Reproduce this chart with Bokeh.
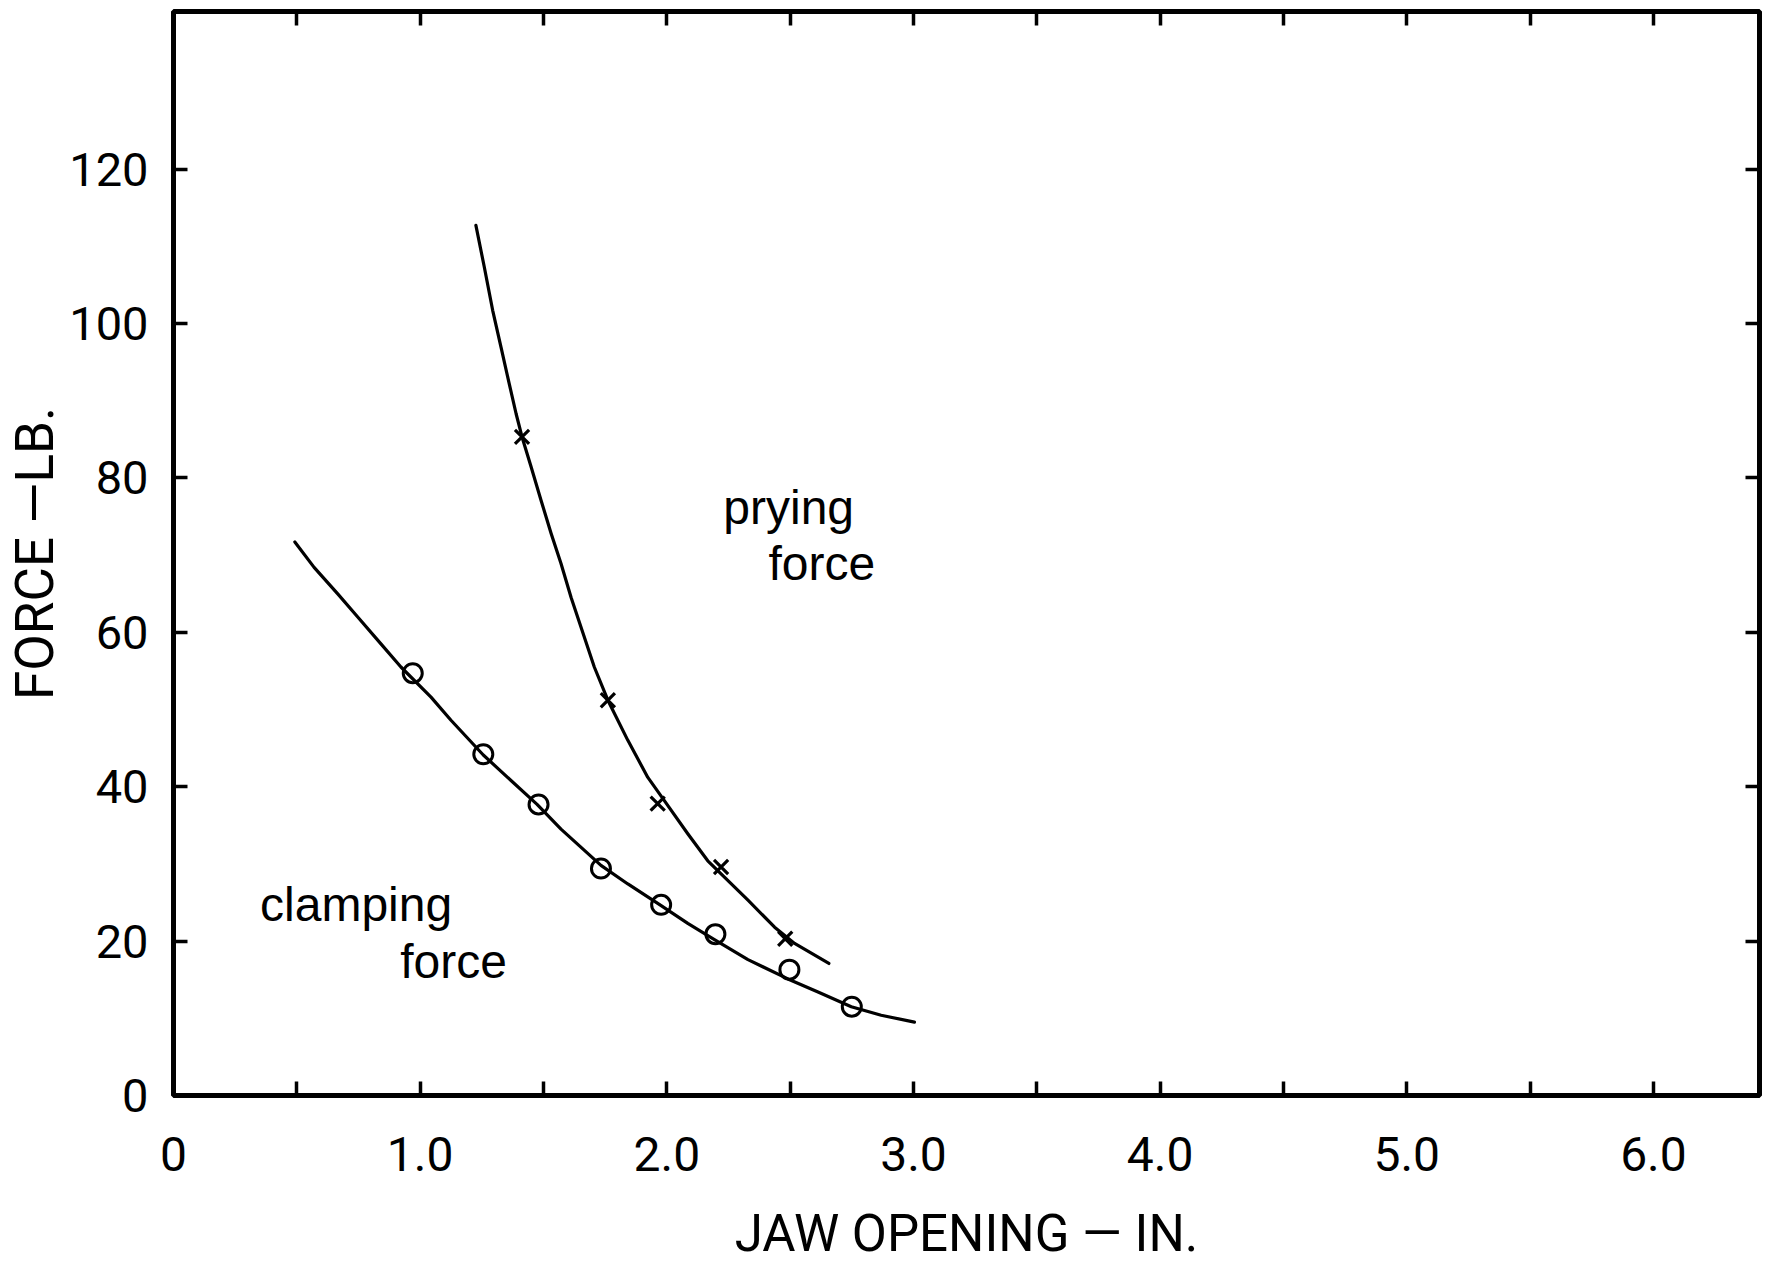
from bokeh.plotting import figure
from bokeh.models import Range1d, FixedTicker, LinearAxis, Label, NumeralTickFormatter
from bokeh.embed import file_html
from bokeh.resources import INLINE

# ---- data ----
x_ticks = [0, 1, 2, 3, 4, 5, 6]
x_minor_ticks = [0.5, 1.5, 2.5, 3.5, 4.5, 5.5]
y_ticks = [0, 20, 40, 60, 80, 100, 120]

# clamping force: measured points (circles)
clamp_x = [0.970, 1.256, 1.480, 1.733, 1.977, 2.197, 2.497, 2.750]
clamp_y = [54.7, 44.2, 37.7, 29.4, 24.7, 20.9, 16.3, 11.5]

# clamping force: hand-drawn fitted curve
clamp_curve_x = [0.492, 0.570, 0.665, 0.746, 0.841, 0.922, 1.044, 1.125, 1.256,
                 1.474, 1.571, 1.733, 1.842, 1.977, 2.085, 2.193, 2.329, 2.491,
                 2.613, 2.748, 2.869, 3.004]
clamp_curve_y = [71.7, 68.4, 65.0, 62.0, 58.5, 55.5, 51.6, 48.6, 44.1,
                 37.7, 34.5, 29.8, 27.4, 24.6, 22.3, 20.2, 17.6, 15.1,
                 13.4, 11.5, 10.4, 9.5]

# prying force: measured points (crosses)
pry_x = [1.413, 1.761, 1.963, 2.220, 2.480]
pry_y = [85.3, 51.2, 37.8, 29.6, 20.3]

# prying force: hand-drawn fitted curve
pry_curve_x = [1.226, 1.260, 1.294, 1.328, 1.361, 1.389, 1.413, 1.450, 1.490,
               1.531, 1.571, 1.612, 1.706, 1.761, 1.842, 1.923, 1.990, 2.085,
               2.166, 2.329, 2.437, 2.518, 2.657]
pry_curve_y = [112.7, 107.3, 101.7, 96.9, 92.2, 88.3, 85.3, 81.4, 77.1,
               72.8, 68.9, 64.5, 55.5, 51.2, 46.0, 41.2, 38.2, 33.9,
               30.4, 25.3, 21.8, 19.7, 17.1]

FONT = "Roboto, sans-serif"
AFONT = "Liberation Sans, Arial, sans-serif"

p = figure(frame_width=1586, frame_height=1084,
           min_border_left=173, min_border_right=11,
           min_border_top=11, min_border_bottom=168,
           x_range=Range1d(0, 6.43), y_range=Range1d(0, 140.4),
           output_backend="svg", toolbar_location=None,
           x_axis_location=None, y_axis_location=None)

p.xgrid.grid_line_color = None
p.ygrid.grid_line_color = None
p.background_fill_color = "white"
p.border_fill_color = "white"
p.outline_line_color = "black"
p.outline_line_width = 5
p.outline_line_alpha = 1.0

xt = FixedTicker(ticks=x_ticks, minor_ticks=x_minor_ticks)
yt = FixedTicker(ticks=y_ticks, minor_ticks=[])


def style_axis(ax, show_labels):
    ax.axis_line_color = None
    ax.major_tick_in = 14
    ax.major_tick_out = 0
    ax.minor_tick_in = 14
    ax.minor_tick_out = 0
    ax.major_tick_line_width = 3.5
    ax.minor_tick_line_width = 3.5
    ax.major_tick_line_color = "black"
    ax.minor_tick_line_color = "black"
    if not show_labels:
        ax.major_label_text_font_size = "0px"
        ax.major_label_standoff = 0
        ax.major_label_text_alpha = 0


bottom = LinearAxis(ticker=xt, formatter=NumeralTickFormatter(format="0.0"),
                    axis_label="JAW OPENING — IN.")
bottom.major_label_overrides = {0: "0"}
style_axis(bottom, True)
bottom.major_label_text_font = FONT
bottom.major_label_text_font_size = "48px"
bottom.major_label_text_color = "black"
bottom.major_label_standoff = 41
bottom.axis_label_text_font = FONT
bottom.axis_label_text_font_size = "51px"
bottom.axis_label_text_font_style = "normal"
bottom.axis_label_text_color = "black"
bottom.axis_label_standoff = 30
p.add_layout(bottom, "below")

left = LinearAxis(ticker=yt, axis_label="FORCE —LB.")
style_axis(left, True)
left.minor_tick_line_color = None
left.major_label_text_font = FONT
left.major_label_text_font_size = "47px"
left.major_label_text_color = "black"
left.major_label_standoff = 25
left.axis_label_text_font = FONT
left.axis_label_text_font_size = "53px"
left.axis_label_text_font_style = "normal"
left.axis_label_text_color = "black"
left.axis_label_standoff = 0
p.add_layout(left, "left")

top = LinearAxis(ticker=xt)
style_axis(top, False)
p.add_layout(top, "above")

right = LinearAxis(ticker=yt)
style_axis(right, False)
right.minor_tick_line_color = None
p.add_layout(right, "right")

# curves
p.line(clamp_curve_x, clamp_curve_y, line_color="black", line_width=3.2,
       line_join="round", line_cap="round")
p.line(pry_curve_x, pry_curve_y, line_color="black", line_width=3.2,
       line_join="round", line_cap="round")

# markers
p.scatter(clamp_x, clamp_y, marker="circle", size=19, fill_color=None,
          line_color="black", line_width=3)
p.scatter(pry_x, pry_y, marker="x", size=20, line_color="black", line_width=3.2)

# annotations
for txt, lx, ly in [("prying", 2.229, 76.2), ("force", 2.412, 68.9),
                    ("clamping", 0.351, 24.8), ("force", 0.919, 17.3)]:
    p.add_layout(Label(x=lx, y=ly, text=txt, text_font=AFONT,
                       text_font_size="48px", text_color="black",
                       text_baseline="alphabetic", text_align="left"))

open("out.html", "w").write(file_html(p, INLINE))
